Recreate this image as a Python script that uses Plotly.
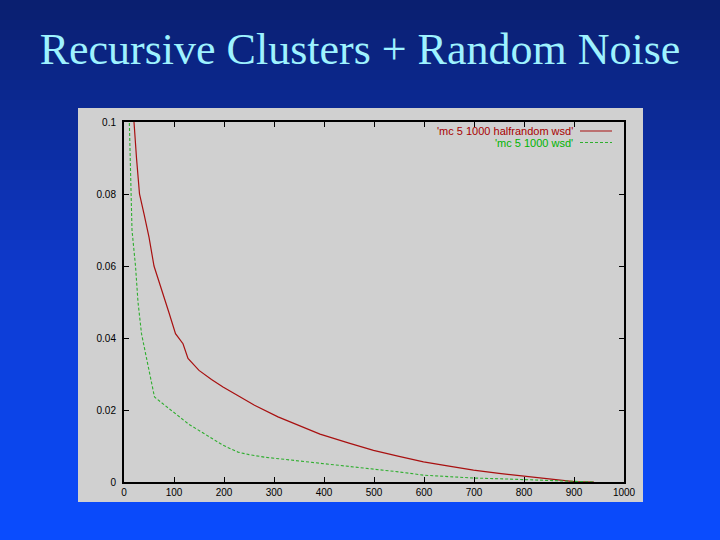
import plotly.graph_objects as go

# ---- data ----
red_x = [15, 20, 25, 31, 40, 50, 60, 71, 80, 90, 103, 118, 128, 135, 150, 175, 198, 230, 261,
         308, 350, 392, 450, 499, 550, 599, 650, 699, 750, 799, 830, 859, 880, 900, 940]
red_y = [0.115, 0.100, 0.090, 0.080, 0.0745, 0.068, 0.060, 0.055, 0.051, 0.047, 0.0412, 0.0384,
         0.0343, 0.0333, 0.031, 0.0285, 0.0264, 0.0238, 0.0213, 0.0181, 0.0157, 0.0133, 0.0108,
         0.0088, 0.0071, 0.0056, 0.0044, 0.0033, 0.0024, 0.0016, 0.0011, 0.0007, 0.0003, 0.0001, 0.0]

green_x = [8, 11, 13, 14, 16, 23, 28, 35, 48, 61, 80, 108, 130, 155, 198, 228, 250, 281, 341,
           392, 450, 499, 550, 599, 650, 699, 750, 799, 850, 900, 940]
green_y = [0.115, 0.100, 0.090, 0.080, 0.070, 0.060, 0.050, 0.0412, 0.032, 0.0236, 0.0215,
           0.0185, 0.016, 0.0139, 0.0102, 0.0083, 0.0076, 0.0069, 0.006, 0.0051, 0.0044, 0.0037,
           0.0028, 0.0019, 0.0014, 0.0011, 0.0009, 0.0007, 0.0003, 0.0001, 0.0]

x_ticks = [0, 100, 200, 300, 400, 500, 600, 700, 800, 900, 1000]
y_ticks = [0, 0.02, 0.04, 0.06, 0.08, 0.1]
y_labels = ["0", "0.02", "0.04", "0.06", "0.08", "0.1"]

red_name = "'mc 5 1000 halfrandom wsd'"
green_name = "'mc 5 1000 wsd'"
title_text = "Recursive Clusters + Random Noise"

# ---- figure ----
W, H = 720, 540
ML, MR, MT, MB = 124, 96, 122, 58
PW, PH = W - ML - MR, H - MT - MB


def px(xp):
    return (xp - ML) / PW


def py(yp):
    return (H - MB - yp) / PH


fig = go.Figure()
fig.add_trace(go.Scatter(x=red_x, y=red_y, mode="lines", name=red_name,
                         line=dict(color="#a81010", width=1.2), showlegend=False))
fig.add_trace(go.Scatter(x=green_x, y=green_y, mode="lines", name=green_name,
                         line=dict(color="#2fae2f", width=1.1, dash="3px,2px"), showlegend=False))

shapes = []


def lerp(a, b, t):
    return tuple(int(round(a[i] + (b[i] - a[i]) * t)) for i in range(3))


top = (10, 30, 110)
mid = (14, 58, 205)
bot = (10, 76, 255)
n = 54
for i in range(n):
    t = (i + 0.5) / n
    c = lerp(top, mid, t / 0.5) if t < 0.5 else lerp(mid, bot, (t - 0.5) / 0.5)
    ytop = i * H / n
    ybot = (i + 1) * H / n + 1
    shapes.append(dict(type="rect", xref="paper", yref="paper",
                       x0=px(0), x1=px(W), y0=py(ybot), y1=py(ytop),
                       fillcolor="rgb(%d,%d,%d)" % c, line=dict(width=0), layer="below"))
# gray panel
shapes.append(dict(type="rect", xref="paper", yref="paper",
                   x0=px(78), x1=px(643), y0=py(502), y1=py(108),
                   fillcolor="#d0d0d0", line=dict(width=0), layer="below"))
# legend samples
shapes.append(dict(type="line", xref="paper", yref="paper",
                   x0=px(580), x1=px(612), y0=py(131), y1=py(131),
                   line=dict(color="#a81010", width=1)))
shapes.append(dict(type="line", xref="paper", yref="paper",
                   x0=px(580), x1=px(612), y0=py(142.5), y1=py(142.5),
                   line=dict(color="#2fae2f", width=1, dash="3px,2px")))

annotations = [
    dict(text=red_name, xref="paper", yref="paper", x=px(575), y=py(131),
         xanchor="right", yanchor="middle", showarrow=False,
         font=dict(family="Liberation Sans, Arial", size=11, color="#a80000")),
    dict(text=green_name, xref="paper", yref="paper", x=px(575), y=py(142.5),
         xanchor="right", yanchor="middle", showarrow=False,
         font=dict(family="Liberation Sans, Arial", size=11, color="#00b400")),
]

fig.update_layout(
    width=W, height=H,
    margin=dict(l=ML, r=MR, t=MT, b=MB),
    paper_bgcolor="#0e3ac8",
    plot_bgcolor="#d0d0d0",
    shapes=shapes,
    annotations=annotations,
    title=dict(text=title_text, x=0.5, xref="container", xanchor="center",
               y=1 - 49 / 540, yref="container", yanchor="middle",
               font=dict(family="Liberation Serif, Times New Roman", size=44, color="#9ef2ff")),
    xaxis=dict(range=[0, 1000], tickvals=x_ticks, ticks="inside", ticklen=5, tickwidth=1,
               tickcolor="black", showline=True, linecolor="black", linewidth=2,
               mirror="ticks", showgrid=False, zeroline=False,
               tickfont=dict(family="Liberation Sans, Arial", size=10, color="black")),
    yaxis=dict(range=[0, 0.1], tickvals=y_ticks, ticktext=y_labels, ticks="inside", ticklen=5,
               tickwidth=1, tickcolor="black", showline=True, linecolor="black", linewidth=2,
               mirror="ticks", showgrid=False, zeroline=False, ticklabelstandoff=4,
               tickfont=dict(family="Liberation Sans, Arial", size=10, color="black")),
    showlegend=False,
)

fig.write_html("out.html", config={"displayModeBar": False},
               post_script="document.body.style.margin='0';document.body.style.padding='0';")
